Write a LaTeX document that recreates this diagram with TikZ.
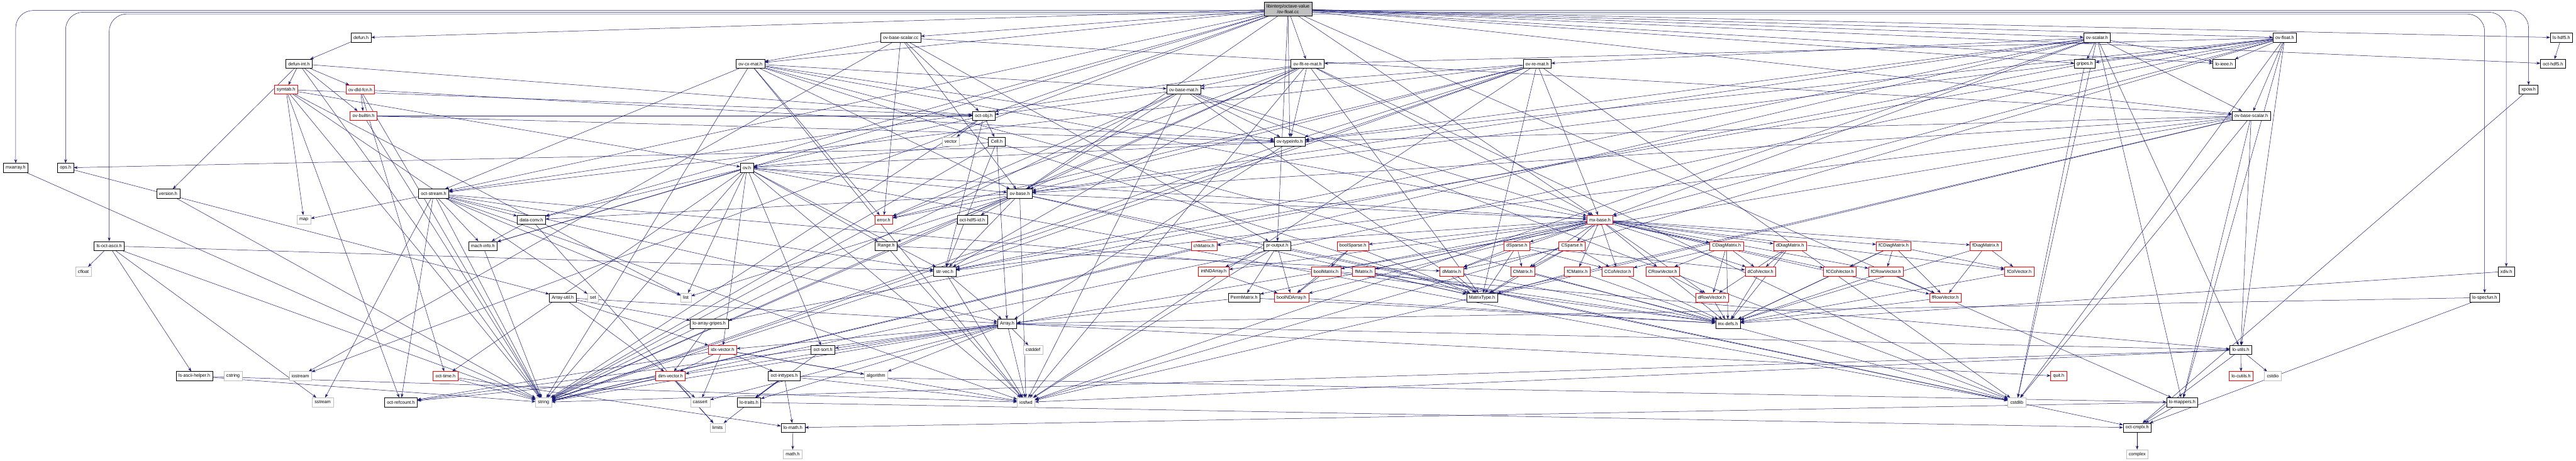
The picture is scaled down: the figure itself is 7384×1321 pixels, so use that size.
\documentclass[tikz,border=0pt]{standalone}
\usepackage{fontspec}
\setmainfont{Liberation Sans}
\usetikzlibrary{arrows.meta,backgrounds}
\definecolor{edgeblue}{RGB}{25,25,112}

\begin{document}
\begin{tikzpicture}[x=1pt, y=-1pt,
        box/.style={rectangle, draw=black, fill=white, line width=1pt, minimum height=26pt, inner xsep=7pt, inner ysep=2pt, font=\fontsize{13}{15}\selectfont},
        redbox/.style={box, draw=red},
        sysbox/.style={box, draw=gray!50},
        rootbox/.style={box, fill=gray!50, align=center, minimum height=40pt},
        arrow/.style={-{Stealth[length=11pt, width=8pt]}, draw=edgeblue, line width=0.9pt}
    ]
    \useasboundingbox (0, 0) rectangle (7384, 1321);

    % Y coordinates (levels):
    % 26 root, 108, 183, 257, 332, 406, 481, 555, 630,
    % 705, 778, 853, 928, 1003, 1078, 1153, 1226, 1302

    % Root
    \node[rootbox] (root) at (3692, 26) {libinterp/octave-value\\/ov-float.cc};

    % Level 1
    \node[box] (defun) at (1035, 108) {defun.h};
    \node[box] (ovbasescalarcc) at (2582, 108) {ov-base-scalar.cc};
    \node[box] (ovscalar) at (6011, 108) {ov-scalar.h};
    \node[box] (ovfloat) at (6549, 108) {ov-float.h};
    \node[box] (lshdf5) at (7342, 108) {ls-hdf5.h};

    % Level 2
    \node[box] (defunint) at (857, 183) {defun-int.h};
    \node[box] (ovcxmat) at (2151, 183) {ov-cx-mat.h};
    \node[box] (ovfltremat) at (3748, 183) {ov-flt-re-mat.h};
    \node[box] (ovremat) at (4406, 183) {ov-re-mat.h};
    \node[box] (gripes) at (5976, 183) {gripes.h};
    \node[box] (loieee) at (6375, 183) {lo-ieee.h};
    \node[box] (octhdf5) at (7318, 183) {oct-hdf5.h};

    % Level 3
    \node[redbox] (symtab) at (820, 257) {symtab.h};
    \node[redbox] (ovdldfcn) at (1033, 257) {ov-dld-fcn.h};
    \node[box] (ovbasemat) at (3393, 257) {ov-base-mat.h};
    \node[box] (xpow) at (7248, 257) {xpow.h};

    % Level 4
    \node[redbox] (ovbuiltin) at (1042, 332) {ov-builtin.h};
    \node[box] (octobj) at (2820, 332) {oct-obj.h};
    \node[box] (ovbasescalar) at (6453, 332) {ov-base-scalar.h};

    % Level 5
    \node[sysbox] (vector) at (2725, 406) {vector};
    \node[box] (cell) at (2857, 406) {Cell.h};
    \node[box] (ovtypeinfo) at (3697, 406) {ov-typeinfo.h};

    % Level 6
    \node[box] (mxarray) at (45, 481) {mxarray.h};
    \node[box] (ops) at (188, 481) {ops.h};
    \node[box] (ov) at (2141, 481) {ov.h};

    % Level 7
    \node[box] (version) at (482, 555) {version.h};
    \node[box] (octstream) at (1243, 555) {oct-stream.h};
    \node[box] (ovbase) at (2923, 555) {ov-base.h};

    % Level 8
    \node[sysbox] (map) at (871, 630) {map};
    \node[box] (dataconv) at (1523, 630) {data-conv.h};
    \node[redbox] (error) at (2533, 630) {error.h};
    \node[box] (octhdf5id) at (2787, 630) {oct-hdf5-id.h};
    \node[redbox] (mxbase) at (4586, 630) {mx-base.h};

    % Level 9
    \node[box] (lsoctascii) at (313, 705) {ls-oct-ascii.h};
    \node[box] (machinfo) at (1384, 705) {mach-info.h};
    \node[box] (range) at (2540, 705) {Range.h};
    \node[redbox] (chmatrix) at (3451, 705) {chMatrix.h};
    \node[box] (proutput) at (3661, 705) {pr-output.h};
    \node[redbox] (boolsparse) at (3878, 705) {boolSparse.h};
    \node[redbox] (dsparse) at (4348, 705) {dSparse.h};
    \node[redbox] (csparse) at (4506, 705) {CSparse.h};
    \node[redbox] (cdiagmatrix) at (4949, 705) {CDiagMatrix.h};
    \node[redbox] (ddiagmatrix) at (5131, 705) {dDiagMatrix.h};
    \node[redbox] (fcdiagmatrix) at (5428, 705) {fCDiagMatrix.h};
    \node[redbox] (fdiagmatrix) at (5692, 705) {fDiagMatrix.h};

    % Level 10
    \node[sysbox] (cfloat) at (239, 778) {cfloat};
    \node[box] (strvec) at (2708, 778) {str-vec.h};
    \node[redbox] (intndarray) at (3479, 778) {intNDArray.h};
    \node[redbox] (boolmatrix) at (3801, 778) {boolMatrix.h};
    \node[redbox] (fmatrix) at (3909, 778) {fMatrix.h};
    \node[redbox] (dmatrix) at (4161, 778) {dMatrix.h};
    \node[redbox] (cmatrix) at (4365, 778) {CMatrix.h};
    \node[redbox] (fcmatrix) at (4521, 778) {fCMatrix.h};
    \node[redbox] (ccolvector) at (4637, 778) {CColVector.h};
    \node[redbox] (crowvector) at (4766, 778) {CRowVector.h};
    \node[redbox] (dcolvector) at (5046, 778) {dColVector.h};
    \node[redbox] (fccolvector) at (5274, 778) {fCColVector.h};
    \node[redbox] (fcrowvector) at (5406, 778) {fCRowVector.h};
    \node[redbox] (fcolvector) at (5788, 778) {fColVector.h};
    \node[box] (xdiv) at (7184, 778) {xdiv.h};

    % Level 11
    \node[box] (arrayutil) at (1613, 853) {Array-util.h};
    \node[sysbox] (set) at (1700, 853) {set};
    \node[sysbox] (list) at (1966, 853) {list};
    \node[box] (permmatrix) at (3566, 853) {PermMatrix.h};
    \node[redbox] (boolndarray) at (3702, 853) {boolNDArray.h};
    \node[box] (matrixtype) at (4248, 853) {MatrixType.h};
    \node[redbox] (drowvector) at (4907, 853) {dRowVector.h};
    \node[redbox] (frowvector) at (5576, 853) {fRowVector.h};
    \node[box] (lospecfun) at (7122, 853) {lo-specfun.h};

    % Level 12
    \node[box] (loarraygripes) at (2033, 928) {lo-array-gripes.h};
    \node[box] (array) at (2887, 928) {Array.h};
    \node[box] (mxdefs) at (4953, 928) {mx-defs.h};

    % Level 13
    \node[redbox] (idxvector) at (2071, 1003) {idx-vector.h};
    \node[box] (octsort) at (2359, 1003) {oct-sort.h};
    \node[sysbox] (cstddef) at (2961, 1003) {cstddef};
    \node[box] (loutils) at (6423, 1003) {lo-utils.h};

    % Level 14
    \node[box] (lsasciihelper) at (557, 1078) {ls-ascii-helper.h};
    \node[sysbox] (cstring) at (668, 1078) {cstring};
    \node[sysbox] (iostream) at (861, 1078) {iostream};
    \node[redbox] (octtime) at (1277, 1078) {oct-time.h};
    \node[redbox] (dimvector) at (1922, 1078) {dim-vector.h};
    \node[box] (octinttypes) at (2248, 1078) {oct-inttypes.h};
    \node[sysbox] (algorithm) at (2511, 1078) {algorithm};
    \node[redbox] (quit) at (5901, 1078) {quit.h};
    \node[redbox] (locutils) at (6424, 1078) {lo-cutils.h};
    \node[sysbox] (cstdio) at (6515, 1078) {cstdio};

    % Level 15
    \node[sysbox] (sstream) at (925, 1153) {sstream};
    \node[box] (octrefcount) at (1149, 1153) {oct-refcount.h};
    \node[sysbox] (string) at (1558, 1153) {string};
    \node[sysbox] (cassert) at (2007, 1153) {cassert};
    \node[box] (lotraits) at (2147, 1153) {lo-traits.h};
    \node[sysbox] (iosfwd) at (2941, 1153) {iosfwd};
    \node[sysbox] (cstdlib) at (5781, 1153) {cstdlib};
    \node[box] (lomappers) at (6255, 1153) {lo-mappers.h};

    % Level 16 and 17
    \node[sysbox] (limits) at (2057, 1226) {limits};
    \node[box] (lomath) at (2273, 1226) {lo-math.h};
    \node[box] (octcmplx) at (6126, 1226) {oct-cmplx.h};
    \node[sysbox] (mathh) at (2272, 1302) {math.h};
    \node[sysbox] (complex) at (6126, 1302) {complex};

    \begin{pgfonlayer}{background}
    % Root includes
    \foreach \dst in {defun, ovbasescalarcc, ovscalar, ovfloat, lshdf5, octhdf5, ovfltremat, ovcxmat, gripes, loieee, ovtypeinfo, octobj, ovbase, ovbasescalar, octstream, dataconv, iostream, machinfo, lomappers, proutput, mxbase}
        \draw[arrow] (root) -- (\dst);
    \draw[arrow, rounded corners=50pt] ([yshift=-4pt]root.west) -| (mxarray);
    \draw[arrow, rounded corners=50pt] ([yshift=-9pt]root.west) -| (ops);
    \draw[arrow, rounded corners=50pt] ([yshift=-14pt]root.west) -| (lsoctascii);
    \draw[arrow, rounded corners=50pt] ([yshift=-4pt]root.east) -| (xpow);
    \draw[arrow, rounded corners=50pt] ([yshift=-9pt]root.east) -| (xdiv);
    \draw[arrow, rounded corners=50pt] ([yshift=-14pt]root.east) -| (lospecfun);

    % Interpreter headers
    \draw[arrow] (defun) -- (defunint);
    \foreach \dst in {symtab, ovdldfcn, ovbuiltin, version, octobj, string}
        \draw[arrow] (defunint) -- (\dst);
    \foreach \dst in {map, set, list, string, ov, octrefcount, octobj}
        \draw[arrow] (symtab) -- (\dst);
    \foreach \dst in {ovbuiltin, ovtypeinfo, string, octtime}
        \draw[arrow] (ovdldfcn) -- (\dst);
    \foreach \dst in {ovtypeinfo, string, octobj}
        \draw[arrow] (ovbuiltin) -- (\dst);
    \foreach \dst in {iostream, octobj, ovbase, error, ovcxmat, ovbasescalar, proutput}
        \draw[arrow] (ovbasescalarcc) -- (\dst);
    \foreach \dst in {cstdlib, iosfwd, string, loieee, lomappers, loutils, mxbase, strvec, gripes, ovbase, ovremat, ovbasescalar, ovtypeinfo}
        \draw[arrow] (ovscalar) -- (\dst);
    \foreach \dst in {cstdlib, iosfwd, string, loieee, lomappers, loutils, mxbase, strvec, gripes, ovbase, ovfltremat, ovbasescalar, ovtypeinfo}
        \draw[arrow] (ovfloat) -- (\dst);
    \draw[arrow] (lshdf5) -- (octhdf5);
    \foreach \dst in {cstdlib, iosfwd, string, mxbase, error, octstream, ovbase, ovbasemat, ovtypeinfo, matrixtype}
        \draw[arrow] (ovcxmat) -- (\dst);
    \foreach \dst in {cstdlib, iosfwd, string, mxbase, error, octstream, ovbase, ovbasemat, ovtypeinfo, matrixtype, strvec}
        \draw[arrow] (ovfltremat) -- (\dst);
    \foreach \dst in {cstdlib, iosfwd, string, mxbase, error, octstream, ovbase, ovbasemat, ovtypeinfo, matrixtype, strvec}
        \draw[arrow] (ovremat) -- (\dst);
    \draw[arrow] (gripes) -- (loarraygripes);
    \draw[arrow] (gripes) -- (cstdlib);
    \draw[arrow] (xpow) -- (octcmplx);
    \foreach \dst in {cstdlib, iosfwd, string, mxbase, matrixtype, octobj, ovbase, ovtypeinfo, error}
        \draw[arrow] (ovbasemat) -- (\dst);
    \foreach \dst in {string, vector, cell, ov, strvec}
        \draw[arrow] (octobj) -- (\dst);
    \foreach \dst in {cstdlib, iosfwd, string, lomappers, loutils, strvec, matrixtype, ovbase, ovtypeinfo}
        \draw[arrow] (ovbasescalar) -- (\dst);
    \foreach \dst in {string, array, strvec, ov}
        \draw[arrow] (cell) -- (\dst);
    \foreach \dst in {string, ov, ops, array}
        \draw[arrow] (ovtypeinfo) -- (\dst);
    \draw[arrow] (mxarray) -- (string);
    \draw[arrow] (ops) -- (arrayutil);
    \draw[arrow] (version) -- (string);
    \foreach \dst in {cstdlib, iosfwd, string, list, range, dataconv, idxvector, machinfo, mxbase, octtime, strvec, octsort, ovbase}
        \draw[arrow] (ov) -- (\dst);
    \foreach \dst in {iosfwd, sstream, string, map, list, array, dataconv, machinfo, octrefcount, strvec, loutils}
        \draw[arrow] (octstream) -- (\dst);
    \foreach \dst in {cstdlib, iosfwd, list, string, range, dataconv, mxbase, strvec, error, octhdf5id, matrixtype}
        \draw[arrow] (ovbase) -- (\dst);
    \draw[arrow] (dataconv) -- (limits);
    \draw[arrow] (dataconv) -- (machinfo);
    \draw[arrow] (error) -- (string);
    \foreach \dst in {cfloat, sstream, string, lsasciihelper, strvec}
        \draw[arrow] (lsoctascii) -- (\dst);

    % Matrix headers
    \foreach \dst in {boolmatrix, chmatrix, dmatrix, cmatrix, fmatrix, fcmatrix, dcolvector, ccolvector, fcolvector, fccolvector, drowvector, crowvector, frowvector, fcrowvector, ddiagmatrix, cdiagmatrix, fdiagmatrix, fcdiagmatrix, permmatrix, boolsparse, dsparse, csparse, intndarray, boolndarray}
        \draw[arrow] (mxbase) -- (\dst);
    \draw[arrow] (machinfo) -- (string);
    \draw[arrow] (range) -- (iosfwd);
    \draw[arrow] (range) -- (dmatrix);
    \draw[arrow] (chmatrix) -- (string);
    \foreach \dst in {iosfwd, octcmplx, intndarray, permmatrix, boolndarray}
        \draw[arrow] (proutput) -- (\dst);
    \draw[arrow] (intndarray) -- (boolndarray);
    \foreach \dst in {boolmatrix, boolndarray, matrixtype}
        \draw[arrow] (boolsparse) -- (\dst);
    \foreach \dst in {dmatrix, cmatrix, dcolvector, ccolvector, matrixtype}
        \draw[arrow] (dsparse) -- (\dst);
    \foreach \dst in {dmatrix, cmatrix, ccolvector, matrixtype}
        \draw[arrow] (csparse) -- (\dst);
    \foreach \dst in {ccolvector, crowvector, drowvector, dcolvector, mxdefs}
        \draw[arrow] (cdiagmatrix) -- (\dst);
    \foreach \dst in {dcolvector, drowvector, mxdefs}
        \draw[arrow] (ddiagmatrix) -- (\dst);
    \foreach \dst in {fccolvector, fcrowvector, frowvector, fcolvector, mxdefs}
        \draw[arrow] (fcdiagmatrix) -- (\dst);
    \foreach \dst in {fcolvector, frowvector, mxdefs}
        \draw[arrow] (fdiagmatrix) -- (\dst);
    \draw[arrow] (boolmatrix) -- (boolndarray);
    \foreach \src in {boolmatrix, fmatrix, dmatrix, cmatrix, fcmatrix, ccolvector, crowvector, dcolvector, fccolvector, fcrowvector, fcolvector, xdiv, permmatrix, boolndarray, drowvector, frowvector}
        \draw[arrow] (\src) -- (mxdefs);
    \foreach \src in {fmatrix, dmatrix, cmatrix, fcmatrix}
        \draw[arrow] (\src) -- (matrixtype);
    \draw[arrow] (crowvector) -- (drowvector);
    \draw[arrow] (fcrowvector) -- (frowvector);

    % Liboctave utilities
    \foreach \dst in {iosfwd, string, array}
        \draw[arrow] (strvec) -- (\dst);
    \foreach \dst in {array, dimvector, idxvector, loarraygripes}
        \draw[arrow] (arrayutil) -- (\dst);
    \draw[arrow] (permmatrix) -- (array);
    \draw[arrow] (lospecfun) -- (octcmplx);
    \draw[arrow] (lospecfun) -- (array);
    \draw[arrow] (loarraygripes) -- (dimvector);
    \foreach \dst in {cassert, cstddef, algorithm, iosfwd, dimvector, idxvector, lotraits, loutils, octsort, quit, octrefcount}
        \draw[arrow] (array) -- (\dst);
    \foreach \dst in {cassert, algorithm, iosfwd, dimvector, octinttypes, octrefcount}
        \draw[arrow] (idxvector) -- (\dst);
    \draw[arrow] (octsort) -- (lotraits);
    \foreach \dst in {locutils, cstdio, iosfwd, string, octcmplx}
        \draw[arrow] (loutils) -- (\dst);
    \draw[arrow] (lsasciihelper) -- (iosfwd);
    \draw[arrow] (lsasciihelper) -- (string);
    \draw[arrow] (octtime) -- (string);
    \draw[arrow] (octtime) -- (lomath);
    \foreach \dst in {cassert, limits, string, octrefcount}
        \draw[arrow] (dimvector) -- (\dst);
    \foreach \dst in {limits, lotraits, lomath, iosfwd, lomappers}
        \draw[arrow] (octinttypes) -- (\dst);
    \draw[arrow] (lotraits) -- (octcmplx);
    \draw[arrow] (lomappers) -- (octcmplx);
    \draw[arrow] (lomappers) -- (lomath);
    \draw[arrow] (lomath) -- (mathh);
    \draw[arrow] (octcmplx) -- (complex);
    \end{pgfonlayer}

\end{tikzpicture}
\end{document}
